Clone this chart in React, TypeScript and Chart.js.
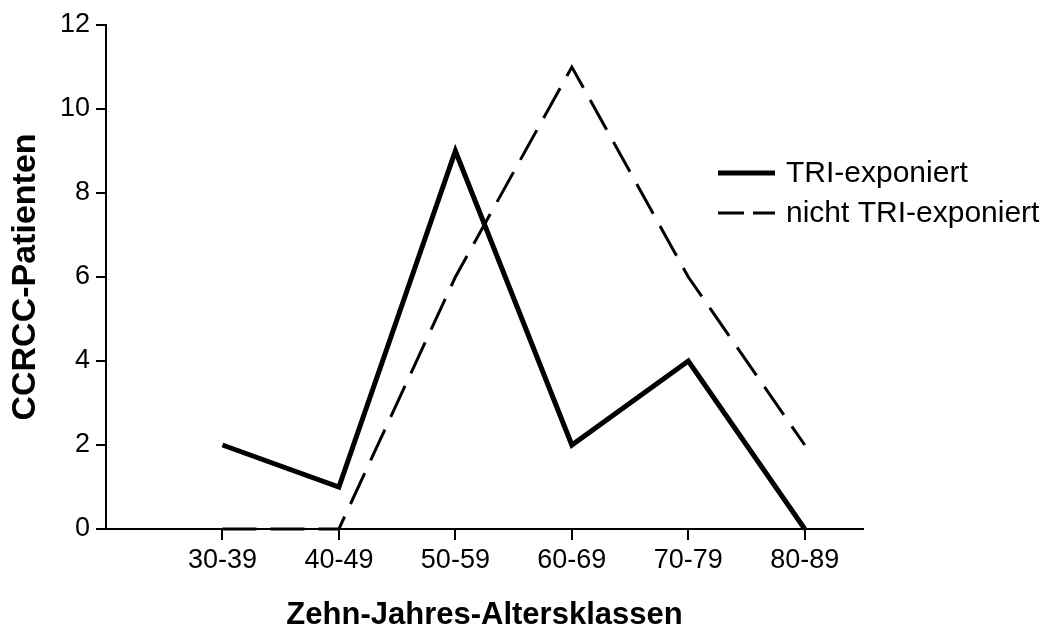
import React, { useEffect, useRef } from 'react';
import { Chart, registerables } from 'chart.js';

Chart.register(...registerables);

const categories = ['30-39', '40-49', '50-59', '60-69', '70-79', '80-89'];
const triExposed = [2, 1, 9, 2, 4, 0];
const notTriExposed = [0, 0, 6, 11, 6, 2];
const yTickValues = [0, 2, 4, 6, 8, 10, 12];
const seriesLabels = ['TRI-exponiert', 'nicht TRI-exponiert'];
const xTitle = 'Zehn-Jahres-Altersklassen';
const yTitle = 'CCRCC-Patienten';

const FONT = "'Liberation Sans', Arial, Helvetica, sans-serif";

const legendPlugin = {
  id: 'customLegend',
  afterDatasetsDraw(chart: any) {
    const ctx = chart.ctx;
    const { right, top } = chart.chartArea;
    ctx.save();
    chart.data.datasets.forEach((ds: any, i: number) => {
      const y = top + 148 + i * 40;
      const x0 = right - 145;
      const x1 = x0 + 57;
      ctx.beginPath();
      ctx.strokeStyle = ds.borderColor;
      ctx.lineWidth = ds.borderWidth;
      ctx.setLineDash(ds.borderDash && ds.borderDash.length ? [26, 9] : []);
      ctx.lineCap = 'butt';
      ctx.moveTo(x0, y);
      ctx.lineTo(x1, y);
      ctx.stroke();
      ctx.setLineDash([]);
      ctx.fillStyle = '#000';
      ctx.font = `30px ${FONT}`;
      ctx.textBaseline = 'middle';
      ctx.textAlign = 'left';
      ctx.fillText(ds.label, x1 + 11, y + 1);
    });
    ctx.restore();
  },
};

export default function App() {
  const canvasRef = useRef<HTMLCanvasElement | null>(null);

  useEffect(() => {
    const canvas = canvasRef.current;
    if (!canvas) return;
    const chart = new Chart(canvas, {
      type: 'line',
      data: {
        datasets: [
          {
            label: seriesLabels[0],
            data: triExposed.map((v, i) => ({ x: i + 1, y: v })),
            borderColor: '#000',
            borderWidth: 5,
            pointRadius: 0,
            borderJoinStyle: 'miter',
            borderCapStyle: 'butt',
            tension: 0,
            fill: false,
            clip: false as any,
          },
          {
            label: seriesLabels[1],
            data: notTriExposed.map((v, i) => ({ x: i + 1, y: v })),
            borderColor: '#000',
            borderWidth: 3,
            borderDash: [34, 14],
            pointRadius: 0,
            borderJoinStyle: 'miter',
            borderCapStyle: 'butt',
            tension: 0,
            fill: false,
            clip: false as any,
          },
        ],
      },
      options: {
        responsive: false,
        animation: false,
        layout: { padding: { top: 25, right: 194, left: 0, bottom: 0 } },
        plugins: {
          legend: { display: false },
          tooltip: { enabled: false },
        },
        scales: {
          x: {
            type: 'linear',
            min: 0,
            max: 6.5,
            afterBuildTicks: (s: any) => {
              s.ticks = categories.map((_, i) => ({ value: i + 1 }));
            },
            afterFit: (s: any) => {
              s.height = 102;
            },
            ticks: {
              autoSkip: false,
              maxRotation: 0,
              padding: 4,
              color: '#000',
              font: { family: FONT, size: 27 },
              callback: (v: any) => categories[Math.round(v) - 1] ?? '',
            },
            grid: {
              display: true,
              drawOnChartArea: false,
              drawTicks: true,
              tickLength: 11,
              lineWidth: 2,
              color: '#000',
            },
            border: { display: true, color: '#000', width: 2 },
            title: {
              display: true,
              text: xTitle,
              color: '#000',
              font: { family: FONT, size: 31, weight: 'bold', lineHeight: 1 },
              padding: { top: 0, bottom: 0 },
            },
          },
          y: {
            type: 'linear',
            min: 0,
            max: 12,
            afterBuildTicks: (s: any) => {
              s.ticks = yTickValues.map((v) => ({ value: v }));
            },
            afterFit: (s: any) => {
              s.width = 106;
            },
            ticks: {
              padding: 6,
              color: '#000',
              font: { family: FONT, size: 27 },
            },
            grid: {
              display: true,
              drawOnChartArea: false,
              drawTicks: true,
              tickLength: 10,
              lineWidth: 2,
              color: '#000',
            },
            border: { display: true, color: '#000', width: 2 },
            title: {
              display: true,
              text: yTitle,
              color: '#000',
              font: { family: FONT, size: 34, weight: 'bold', lineHeight: 1 },
              padding: { top: 9, bottom: 0 },
            },
          },
        },
      } as any,
      plugins: [legendPlugin],
    });
    return () => chart.destroy();
  }, []);

  return (
    <div style={{ position: 'fixed', left: 0, top: 0, width: 1057, height: 631, background: '#fff' }}>
      <canvas ref={canvasRef} width={1057} height={631} style={{ display: 'block' }} />
    </div>
  );
}
